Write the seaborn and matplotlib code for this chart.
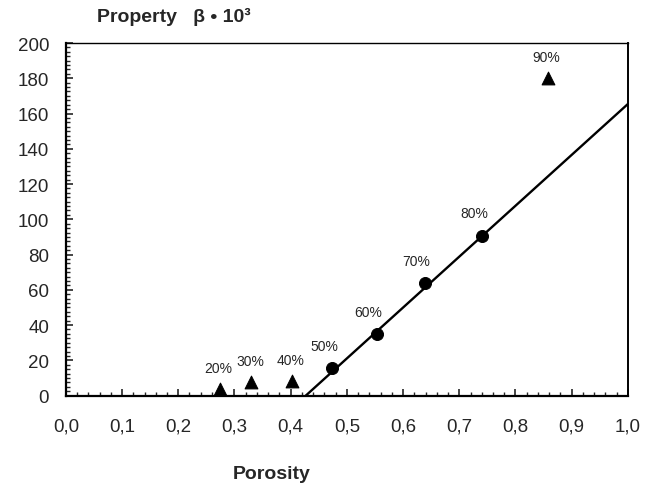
import numpy as np
import pandas as pd
import matplotlib
matplotlib.use("Agg")
import matplotlib.pyplot as plt
from matplotlib.ticker import MultipleLocator
import seaborn as sns

# values
circle_porosity = [0.474, 0.553, 0.639, 0.741]
circle_beta = [15.6, 34.9, 63.8, 90.7]
circle_labels = ["50%", "60%", "70%", "80%"]

triangle_porosity = [0.274, 0.330, 0.402, 0.857]
triangle_beta = [3.7, 7.5, 8.4, 180.0]
triangle_labels = ["20%", "30%", "40%", "90%"]

fit_porosity = [0.427, 1.0]
fit_beta = [0.0, 165.4]

x_ticks = [0.0, 0.1, 0.2, 0.3, 0.4, 0.5, 0.6, 0.7, 0.8, 0.9, 1.0]
x_tick_labels = ["0,0", "0,1", "0,2", "0,3", "0,4", "0,5", "0,6", "0,7", "0,8", "0,9", "1,0"]
y_ticks = [0, 20, 40, 60, 80, 100, 120, 140, 160, 180, 200]

sns.set_style("ticks")
plt.rcParams["font.family"] = ["Liberation Sans", "DejaVu Sans"]

circles = pd.DataFrame({"porosity": circle_porosity, "beta": circle_beta, "label": circle_labels})
triangles = pd.DataFrame({"porosity": triangle_porosity, "beta": triangle_beta, "label": triangle_labels})
fit = pd.DataFrame({"porosity": fit_porosity, "beta": fit_beta})

fig = plt.figure(figsize=(6.52, 4.89), dpi=100)
ax = fig.add_axes([0.101, 0.189, 0.862, 0.721])

sns.lineplot(data=fit, x="porosity", y="beta", color="black", linewidth=1.7, ax=ax)
sns.scatterplot(data=circles, x="porosity", y="beta", marker="o", s=75,
                color="black", edgecolor="black", ax=ax, zorder=3)
sns.scatterplot(data=triangles, x="porosity", y="beta", marker="^", s=85,
                color="black", edgecolor="black", ax=ax, zorder=3)

# percentage labels above the points
for df, dx, dy in [(circles, -6, 11), (triangles, -1, 10)]:
    for _, row in df.iterrows():
        ax.annotate(row["label"], (row["porosity"], row["beta"]),
                    xytext=(dx, dy), textcoords="offset points",
                    ha="center", va="bottom", fontsize=10)

ax.set_xlim(0, 1.0)
ax.set_ylim(0, 200)
ax.set_xticks(x_ticks)
ax.set_xticklabels(x_tick_labels)
ax.set_yticks(y_ticks)
ax.xaxis.set_minor_locator(MultipleLocator(0.02))
ax.yaxis.set_minor_locator(MultipleLocator(2.5))
ax.tick_params(axis="both", which="major", direction="in", length=5, width=1.2,
               labelsize=13.5, pad=16, top=False, right=False)
ax.tick_params(axis="both", which="minor", direction="in", length=3, width=1.0,
               top=False, right=False)
ax.tick_params(axis="y", which="major", pad=12)
for side in ["left", "bottom", "top", "right"]:
    ax.spines[side].set_visible(True)
    ax.spines[side].set_color("black")
ax.spines["left"].set_linewidth(1.6)
ax.spines["bottom"].set_linewidth(1.6)
ax.spines["top"].set_linewidth(1.0)
ax.spines["right"].set_linewidth(1.4)
ax.set_xlabel("")
ax.set_ylabel("")

fig.text(97 / 652, 1 - 17 / 489, "Property   \u03b2 \u2022 10\u00b3", fontsize=14,
         fontweight="bold", ha="left", va="center")
fig.text(272 / 652, 1 - 475 / 489, "Porosity", fontsize=14,
         fontweight="bold", ha="center", va="center")

fig.savefig("out.png", dpi=100, facecolor="white")
